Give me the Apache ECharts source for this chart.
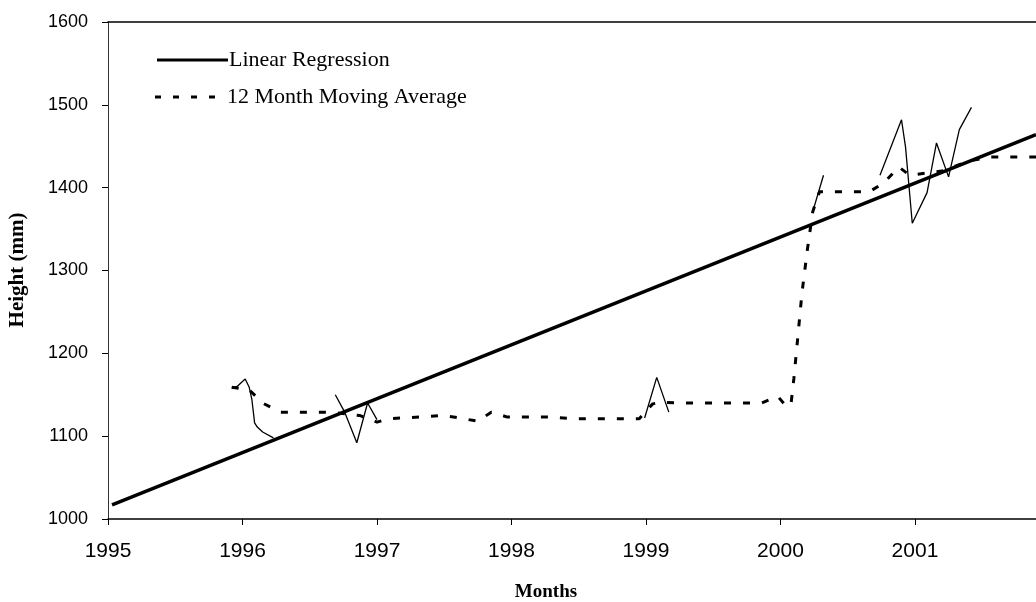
<!DOCTYPE html>
<html>
<head>
<meta charset="utf-8">
<script src="https://cdn.jsdelivr.net/npm/echarts@6/dist/echarts.min.js"></script>
<style>
html,body{margin:0;padding:0;background:#fff;}
#chart{width:1036px;height:602px;}
</style>
</head>
<body>
<div id="chart"></div>
<script>
// x tick labels and y ticks
const xTicks = [1995, 1996, 1997, 1998, 1999, 2000, 2001];
const yTicks = [1000, 1100, 1200, 1300, 1400, 1500, 1600];

// Linear regression line [year, height]
const regression = [[1995.03, 1017], [2001.9, 1464]];

// 12 month moving average [year, height]
const movingAverage = [
  [1995.92, 1159], [1996.05, 1156], [1996.15, 1140], [1996.28, 1129], [1996.65, 1129],
  [1996.87, 1125], [1997.00, 1117], [1997.09, 1121], [1997.50, 1125], [1997.61, 1122],
  [1997.75, 1118], [1997.85, 1129], [1997.97, 1123], [1998.30, 1123], [1998.45, 1121],
  [1998.95, 1121], [1999.01, 1132], [1999.05, 1139], [1999.11, 1141], [1999.25, 1140],
  [1999.86, 1140], [1999.98, 1148], [2000.05, 1135], [2000.08, 1141], [2000.10, 1170],
  [2000.16, 1273], [2000.20, 1325], [2000.24, 1371], [2000.29, 1395], [2000.66, 1395],
  [2000.77, 1406], [2000.88, 1425], [2000.96, 1415], [2001.20, 1420], [2001.40, 1432],
  [2001.55, 1437], [2001.9, 1437]
];

// Visible fragments of the monthly data line [year, height]
const monthly1 = [[1995.92, 1158], [1995.96, 1160], [1996.02, 1169], [1996.05, 1159], [1996.07, 1144], [1996.09, 1116], [1996.11, 1111], [1996.15, 1105], [1996.23, 1098]];
const monthly2 = [[1996.69, 1150], [1996.76, 1129], [1996.85, 1092], [1996.93, 1140], [1997.00, 1120]];
const monthly3 = [[1998.99, 1122], [1999.08, 1171], [1999.17, 1129]];
const monthly4 = [[2000.24, 1371], [2000.32, 1415]];
const monthly5 = [[2000.74, 1415], [2000.90, 1482], [2000.93, 1449], [2000.98, 1357], [2001.09, 1394], [2001.16, 1454], [2001.25, 1413], [2001.33, 1470], [2001.42, 1497]];

const serif = "'Liberation Serif', 'Times New Roman', serif";
const sans = "'Liberation Sans', Arial, sans-serif";

const chart = echarts.init(document.getElementById('chart'));

function thin(data) {
  return { type: 'line', data: data, showSymbol: false, symbol: 'none', silent: true,
    lineStyle: { color: '#000', width: 1.3 }, z: 2 };
}

chart.setOption({
  animation: false,
  backgroundColor: '#fff',
  grid: { left: 108, right: 0, top: 22, bottom: 83, show: false },
  xAxis: [{
    type: 'value', min: xTicks[0], max: 2001.9, interval: 1,
    axisLine: { lineStyle: { color: '#000', width: 1.5 } },
    axisTick: { show: true, inside: false, length: 6, lineStyle: { color: '#000' } },
    splitLine: { show: false },
    axisLabel: { color: '#000', fontFamily: sans, fontSize: 21, margin: 22, showMaxLabel: false,
      formatter: v => xTicks.indexOf(v) >= 0 ? String(v) : '' }
  }, {
    type: 'value', position: 'top', min: xTicks[0], max: 2001.9,
    axisLine: { show: true, lineStyle: { color: '#000', width: 1.5 } },
    axisTick: { show: false }, axisLabel: { show: false }, splitLine: { show: false }
  }],
  yAxis: {
    type: 'value', min: yTicks[0], max: yTicks[yTicks.length - 1], interval: 100,
    axisLine: { show: true, lineStyle: { color: '#333', width: 1 } },
    axisTick: { show: true, inside: false, length: 6, lineStyle: { color: '#000' } },
    splitLine: { show: false },
    axisLabel: { color: '#000', fontFamily: sans, fontSize: 18, margin: 20,
      formatter: v => String(v) }
  },
  series: [
    { name: 'Linear Regression', type: 'line', data: regression, showSymbol: false, symbol: 'none',
      lineStyle: { color: '#000', width: 3.5 }, z: 4 },
    { name: '12 Month Moving Average', type: 'line', data: movingAverage, showSymbol: false, symbol: 'none',
      lineStyle: { color: '#000', width: 3, type: [7, 12] }, z: 3 },
    thin(monthly1), thin(monthly2), thin(monthly3), thin(monthly4), thin(monthly5)
  ],
  graphic: [
    { type: 'line', shape: { x1: 157, y1: 60, x2: 228, y2: 60 }, style: { stroke: '#000', lineWidth: 3 } },
    { type: 'text', x: 229, y: 60, style: { text: 'Linear Regression', font: '22px ' + serif, fill: '#000', textVerticalAlign: 'middle' } },
    { type: 'line', shape: { x1: 155, y1: 97, x2: 226, y2: 97 }, style: { stroke: '#000', lineWidth: 3, lineDash: [6, 12] } },
    { type: 'text', x: 227, y: 97, style: { text: '12 Month Moving Average', font: '22px ' + serif, fill: '#000', textVerticalAlign: 'middle' } },
    { type: 'text', x: 546, y: 592, style: { text: 'Months', font: 'bold 19px ' + serif, fill: '#000', textAlign: 'center', textVerticalAlign: 'middle' } },
    { type: 'text', rotation: Math.PI / 2, x: 18, y: 270, style: { text: 'Height (mm)', font: 'bold 21px ' + serif, fill: '#000', textAlign: 'center', textVerticalAlign: 'middle' } }
  ]
});
</script>
</body>
</html>
